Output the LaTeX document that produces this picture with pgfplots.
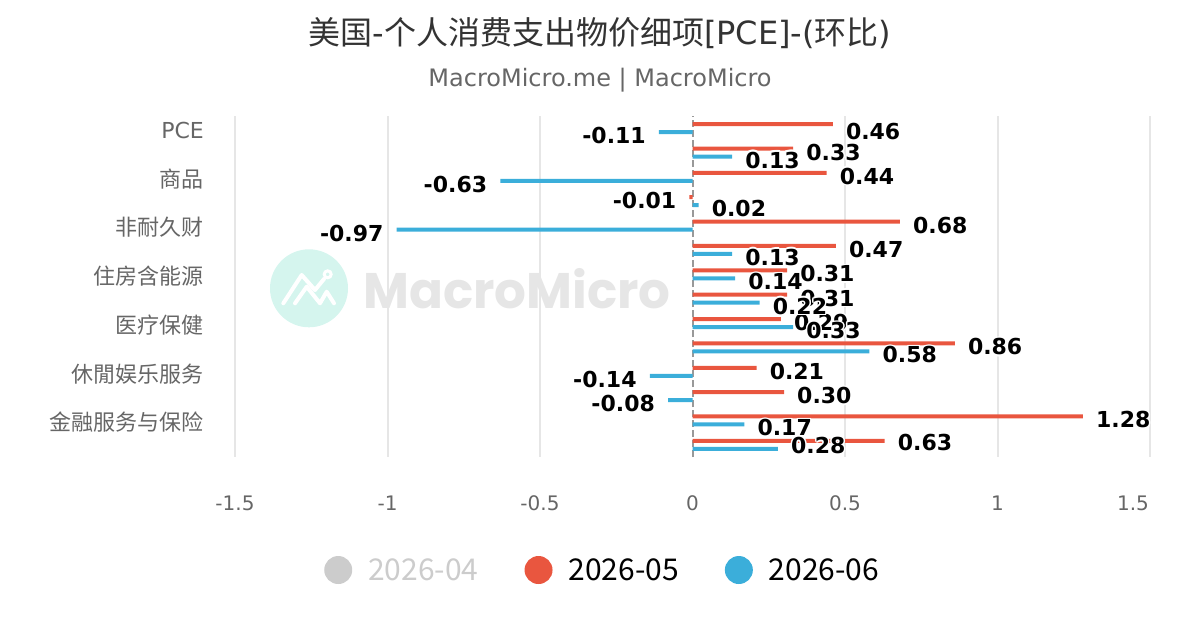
\documentclass[border=0pt]{standalone}
\usepackage{fontspec}
\setmainfont{DejaVu Sans}
\newfontfamily\cjk{Noto Sans CJK SC}
\newfontfamily\popp{Poppins}
\usepackage{pgfplots}
\usepackage{pgfplotstable}
\pgfplotsset{compat=1.18}

\definecolor{redC}{RGB}{233,86,63}
\definecolor{blueC}{RGB}{59,174,218}
\definecolor{grayL}{RGB}{204,204,204}
\definecolor{gridC}{RGB}{230,230,230}
\definecolor{labC}{RGB}{102,102,102}
\definecolor{titC}{RGB}{51,51,51}
\definecolor{zeroC}{RGB}{153,153,153}
\definecolor{wmC}{RGB}{213,245,238}
\definecolor{wmT}{RGB}{230,230,230}

\newcommand\hs[3]{\rlap{\kern#1\raisebox{#2}{\color{white}#3}}}
\newcommand\hl[1]{\leavevmode\hs{1.5pt}{0pt}{#1}\hs{-1.5pt}{0pt}{#1}\hs{0pt}{1.5pt}{#1}\hs{0pt}{-1.5pt}{#1}\hs{1.1pt}{1.1pt}{#1}\hs{-1.1pt}{1.1pt}{#1}\hs{1.1pt}{-1.1pt}{#1}\hs{-1.1pt}{-1.1pt}{#1}#1}

% 2026-05 ; sg = side of label (1 right, -1 left), sy = vertical shift of label
\pgfplotstableread{
y x lab sg sy
13 0.46 0.46 1 -7
12 0.33 0.33 1 -3.5
11 0.44 0.44 1 -3.5
10 -0.01 -0.01 -1 -3.5
9 0.68 0.68 1 -3.5
8 0.47 0.47 1 -3.5
7 0.31 0.31 1 -3.5
6 0.31 0.31 1 -3.5
5 0.29 0.29 1 -3.5
4 0.86 0.86 1 -3.5
3 0.21 0.21 1 -3.5
2 0.30 0.30 1 -3.5
1 1.28 1.28 1 -3.5
0 0.63 0.63 1 -1.3
}\redtab

% 2026-06
\pgfplotstableread{
y x lab sg sy
13 -0.11 -0.11 -1 -3.5
12 0.13 0.13 1 -3.5
11 -0.63 -0.63 -1 -3.5
10 0.02 0.02 1 -3.5
9 -0.97 -0.97 -1 -3.5
8 0.13 0.13 1 -3.5
7 0.14 0.14 1 -3.5
6 0.22 0.22 1 -3.5
5 0.33 0.33 1 -3.5
4 0.58 0.58 1 -3.5
3 -0.14 -0.14 -1 -3.5
2 -0.08 -0.08 -1 -3.5
1 0.17 0.17 1 -3.5
0 0.28 0.28 1 3
}\bluetab

\begin{document}
\begin{tikzpicture}[x=1pt,y=1pt]
\path[use as bounding box] (0,0) rectangle (1200,630);
% watermark
\fill[wmC] (309,341.7) circle (39);
\draw[white, line width=4pt, line cap=round, line join=round] (283.3,326.7) -- (301.7,355) -- (315,340) -- (324,351);
\draw[white, line width=3pt] (327.7,355.7) circle (3.5);
\draw[white, line width=4pt, line cap=round, line join=round] (295,326.7) -- (306.7,343.3) -- (320,326.7) -- (326.7,338.3) -- (334,326.7);
\node[anchor=base west, inner sep=0pt, text=wmT, font=\popp\bfseries\fontsize{50}{58}\selectfont] at (363,321.7) {MacroMicro};
% title
\node[anchor=base, inner sep=0pt, text=titC, font=\fontsize{32}{38}\selectfont] at (600,585.3) {{\cjk 美国}-{\cjk 个人消费支出物价细项}[PCE]-({\cjk 环比})};
\node[anchor=base, inner sep=0pt, text=labC, font=\fontsize{24}{29}\selectfont] at (600,543.3) {MacroMicro.me | MacroMicro};

\begin{axis}[
  at={(235pt,173pt)}, anchor=south west,
  scale only axis, width=915pt, height=341pt,
  xmin=-1.5, xmax=1.5, ymin=-0.5, ymax=13.5,
  clip=false,
  axis line style={draw=none},
  tick style={draw=none}, major tick length=0pt,
  xtick={-1.5,-1,-0.5,0.5,1,1.5},
  xticklabels={-1.5,-1,-0.5,0.5,1,{1.5\hspace*{34pt}}},
  extra x ticks={0}, extra x tick labels={0},
  extra x tick style={xmajorgrids=true, grid style={zeroC, line width=2pt, dash pattern=on 7pt off 3pt}},
  xmajorgrids, grid style={gridC, line width=2pt},
  xticklabel style={font=\fontsize{20}{24}\selectfont, text=labC, anchor=center, inner sep=0pt, yshift=-46pt},
  ytick={13,11,9,7,5,3,1},
  yticklabels={PCE,{\cjk 商品},{\cjk 非耐久财},{\cjk 住房含能源},{\cjk 医疗保健},{\cjk 休閒娱乐服务},{\cjk 金融服务与保险}},
  yticklabel style={font=\fontsize{22}{26}\selectfont, text=labC, anchor=east, inner sep=0pt, xshift=-31pt, yshift=-2pt},
  xbar, bar width=4pt,
  point meta=explicit symbolic,
  nodes near coords={\hl{\pgfplotspointmeta}},
  every node near coord/.append style={font=\bfseries\fontsize{22}{26}\selectfont, text=black, inner xsep=13pt, inner ysep=0pt},
  legend columns=3,
  legend image code/.code={\fill[#1] (14pt,0pt) circle (14pt);},
  legend style={at={(0.0973,-0.3314)}, anchor=west, draw=none, fill=none, inner sep=0pt,
    font=\cjk\fontsize{30}{36}\selectfont, cells={anchor=west, inner sep=0pt},
    /tikz/every odd column/.append style={column sep=14pt},
    /tikz/every even column/.append style={column sep=44pt}},
]
\addplot[fill=redC, draw=none, bar shift=4pt, forget plot,
  visualization depends on={\thisrow{sg} \as \sg},
  visualization depends on={\thisrow{sy} \as \sy},
  every node near coord/.append style={anchor={\ifdim\sg pt<0pt east\else west\fi}, yshift=\sy}]
  table[x=x, y=y, meta=lab]{\redtab};
\addplot[fill=blueC, draw=none, bar shift=-4pt, forget plot,
  visualization depends on={\thisrow{sg} \as \sg},
  visualization depends on={\thisrow{sy} \as \sy},
  every node near coord/.append style={anchor={\ifdim\sg pt<0pt east\else west\fi}, yshift=\sy}]
  table[x=x, y=y, meta=lab]{\bluetab};
\addlegendimage{fill=grayL, draw=none}
\addlegendentry[text=grayL]{2026-04}
\addlegendimage{fill=redC, draw=none}
\addlegendentry[text=black]{2026-05}
\addlegendimage{fill=blueC, draw=none}
\addlegendentry[text=black]{2026-06}
\end{axis}
\end{tikzpicture}
\end{document}
